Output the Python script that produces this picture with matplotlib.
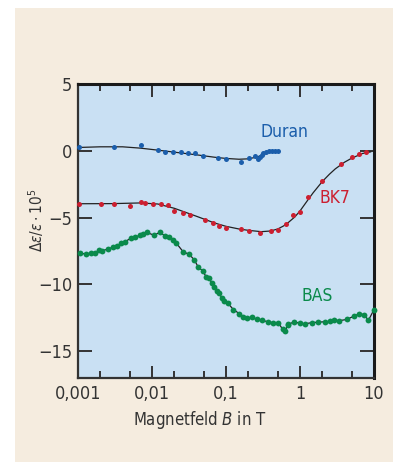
import matplotlib

matplotlib.use("Agg")
import matplotlib.pyplot as plt
from matplotlib import font_manager
from matplotlib.patches import Rectangle
from matplotlib.ticker import FixedLocator, FixedFormatter, NullFormatter

# --- data ------------------------------------------------------------------
duran_x = [0.00103, 0.00306, 0.0071, 0.0122, 0.0151, 0.019, 0.0244, 0.0303,
           0.0381, 0.0494, 0.0787, 0.1, 0.158, 0.202, 0.249, 0.273, 0.288,
           0.303, 0.32, 0.347, 0.378, 0.414, 0.459, 0.509]
duran_y = [0.25, 0.3, 0.4, 0.07, -0.07, -0.07, -0.12, -0.2,
           -0.2, -0.42, -0.5, -0.62, -0.82, -0.57, -0.42, -0.62, -0.45,
           -0.3, -0.2, -0.07, 0.0, 0.02, 0.0, -0.05]
duran_fit_x = [0.001, 0.002, 0.004, 0.007, 0.012, 0.02, 0.04, 0.07, 0.1,
               0.15, 0.2, 0.27, 0.35, 0.45, 0.52]
duran_fit_y = [0.25, 0.3, 0.3, 0.2, 0.05, -0.1, -0.3, -0.48, -0.57,
               -0.63, -0.6, -0.45, -0.15, 0.0, 0.02]

bk7_x = [0.00103, 0.00203, 0.00306, 0.0051, 0.0071, 0.0081, 0.0102, 0.0132,
         0.0163, 0.020, 0.026, 0.0326, 0.052, 0.066, 0.081, 0.1, 0.16, 0.202,
         0.285, 0.40, 0.50, 0.646, 0.794, 1.0, 1.27, 2.0, 3.55, 5.0, 6.3, 7.9]
bk7_y = [-3.96, -3.96, -3.96, -4.13, -3.84, -3.88, -3.96, -3.96,
         -4.08, -4.5, -4.63, -4.8, -5.2, -5.4, -5.66, -5.74, -5.86, -6.0,
         -6.14, -6.0, -5.89, -5.5, -4.83, -4.6, -3.47, -2.23, -0.99, -0.45,
         -0.25, -0.07]
bk7_fit_x = [0.001, 0.003, 0.007, 0.012, 0.02, 0.03, 0.04, 0.07, 0.1, 0.15,
             0.2, 0.3, 0.4, 0.5, 0.6, 0.7, 0.85, 1.0, 1.25, 1.5, 2.0, 2.5,
             3.0, 4.0, 5.0, 7.0, 9.0]
bk7_fit_y = [-3.96, -3.95, -3.9, -3.98, -4.3, -4.65, -4.9, -5.4, -5.65,
             -5.85, -5.95, -6.05, -6.0, -5.85, -5.62, -5.35, -4.95, -4.5,
             -3.75, -3.15, -2.3, -1.75, -1.35, -0.85, -0.55, -0.2, -0.08]

bas_x = [0.00106, 0.00128, 0.0015, 0.0017, 0.00192, 0.00213, 0.00257, 0.003,
         0.0034, 0.00385, 0.00431, 0.00515, 0.00595, 0.00689, 0.00764,
         0.00848, 0.01064, 0.0127, 0.015, 0.0171, 0.0194, 0.0211, 0.0265,
         0.0319, 0.0373, 0.0423, 0.0484, 0.0537, 0.0589, 0.0641, 0.0689,
         0.0763, 0.0812, 0.0875, 0.0948, 0.105, 0.126, 0.151, 0.171, 0.194,
         0.222, 0.26, 0.303, 0.373, 0.436, 0.51, 0.583, 0.627, 0.682, 0.695,
         0.838, 1.0, 1.17, 1.44, 1.77, 2.18, 2.54, 2.91, 3.4, 4.27, 5.37,
         6.3, 7.32, 8.4, 10.0]
bas_y = [-7.67, -7.72, -7.65, -7.65, -7.42, -7.47, -7.35, -7.2,
         -7.15, -6.93, -6.8, -6.55, -6.45, -6.33, -6.21,
         -6.11, -6.31, -6.11, -6.36, -6.46, -6.68, -6.88, -7.57,
         -7.74, -8.17, -8.71, -8.98, -9.41, -9.48, -9.9, -10.22,
         -10.52, -10.64, -11.01, -11.21, -11.38, -11.88, -12.18, -12.42, -12.52,
         -12.44, -12.62, -12.69, -12.79, -12.86, -12.86, -13.36, -13.49, -13.07,
         -12.99, -12.79, -12.92, -12.94, -12.86, -12.82, -12.79, -12.76, -12.66,
         -12.71, -12.62, -12.37, -12.2, -12.25, -12.69, -11.88]

x_ticks = [0.001, 0.01, 0.1, 1, 10]
x_labels = ["0,001", "0,01", "0,1", "1", "10"]
y_ticks = [-15, -10, -5, 0, 5]
y_labels = ["\u221215", "\u221210", "\u22125", "0", "5"]

BLUE = "#1b5eab"
RED = "#cc1f30"
GREEN = "#0a8a4b"
AX_BG = "#c9e0f3"
PANEL = "#f5ecdf"

# prefer a condensed face if one is installed
STRETCH = "normal"
FONT = "Liberation Sans"
for f in font_manager.fontManager.ttflist:
    if "condensed" in str(f.stretch) or "Narrow" in f.name:
        if f.name in ("Liberation Sans Narrow", "Noto Sans", "Open Sans",
                      "Roboto Condensed", "Roboto", "DejaVu Sans"):
            FONT = f.name
            STRETCH = f.stretch if "Narrow" not in f.name else "normal"
            break
plt.rcParams["font.family"] = [FONT, "DejaVu Sans"]
plt.rcParams["font.stretch"] = STRETCH
plt.rcParams["mathtext.fontset"] = "custom"
plt.rcParams["mathtext.rm"] = FONT
plt.rcParams["mathtext.it"] = FONT + ":italic"

fig = plt.figure(figsize=(4.0, 4.62), dpi=100)
fig.patch.set_facecolor("white")
fig.patches.append(Rectangle((15 / 400, 0), 378 / 400, 454 / 462,
                             transform=fig.transFigure, facecolor=PANEL,
                             edgecolor="none", zorder=-10))

ax = fig.add_axes([78 / 400, 84 / 462, 296 / 400, 294 / 462])
ax.set_facecolor(AX_BG)
ax.set_xscale("log")
ax.set_xlim(0.001, 10)
ax.set_ylim(-17, 5)

ms = 3.6
ax.plot(duran_fit_x, duran_fit_y, color="#222222", lw=0.9, zorder=2)
ax.plot(bk7_fit_x, bk7_fit_y, color="#222222", lw=0.9, zorder=2)
ax.plot(bas_x, bas_y, color="#222222", lw=0.9, zorder=2)
ax.plot(duran_x, duran_y, "o", color=BLUE, ms=ms, mec="none", zorder=3, clip_on=False)
ax.plot(bk7_x, bk7_y, "o", color=RED, ms=ms, mec="none", zorder=3, clip_on=False)
ax.plot(bas_x, bas_y, "o", color=GREEN, ms=ms + 0.6, mec="none", zorder=3, clip_on=False)

ax.text(0.62, 1.4, "Duran", color=BLUE, fontsize=12.5, ha="center", va="center")
ax.text(2.95, -3.5, "BK7", color=RED, fontsize=12.5, ha="center", va="center")
ax.text(1.7, -10.9, "BAS", color=GREEN, fontsize=12.5, ha="center", va="center")

ax.xaxis.set_major_locator(FixedLocator(x_ticks))
ax.xaxis.set_major_formatter(FixedFormatter(x_labels))
ax.xaxis.set_minor_locator(FixedLocator([m * d for d in [0.001, 0.01, 0.1, 1] for m in (2, 5)]))
ax.xaxis.set_minor_formatter(NullFormatter())
ax.yaxis.set_major_locator(FixedLocator(y_ticks))
ax.yaxis.set_major_formatter(FixedFormatter(y_labels))

ax.tick_params(which="both", direction="in", top=True, right=True,
               color="#333333", width=1.4, labelsize=13, labelcolor="#333333")
ax.tick_params(which="major", length=9, pad=5)
ax.tick_params(which="minor", length=5)
ax.tick_params(axis="y", length=10, pad=4)

for side in ["left", "bottom"]:
    ax.spines[side].set_linewidth(1.6)
    ax.spines[side].set_color("#333333")
for side in ["top", "right"]:
    ax.spines[side].set_linewidth(2.2)
    ax.spines[side].set_color("#1a1a1a")

fig.text(200 / 400, 1 - 420 / 462, "Magnetfeld $\\mathit{B}$ in T", ha="center",
         va="center", fontsize=12, color="#333333")
fig.text(36 / 400, 1 - 220 / 462, r"$\Delta\varepsilon/\varepsilon\cdot10^5$",
         rotation=90, ha="center", va="center", fontsize=11, color="#333333")

fig.savefig("out.png", dpi=100, facecolor=fig.get_facecolor())
